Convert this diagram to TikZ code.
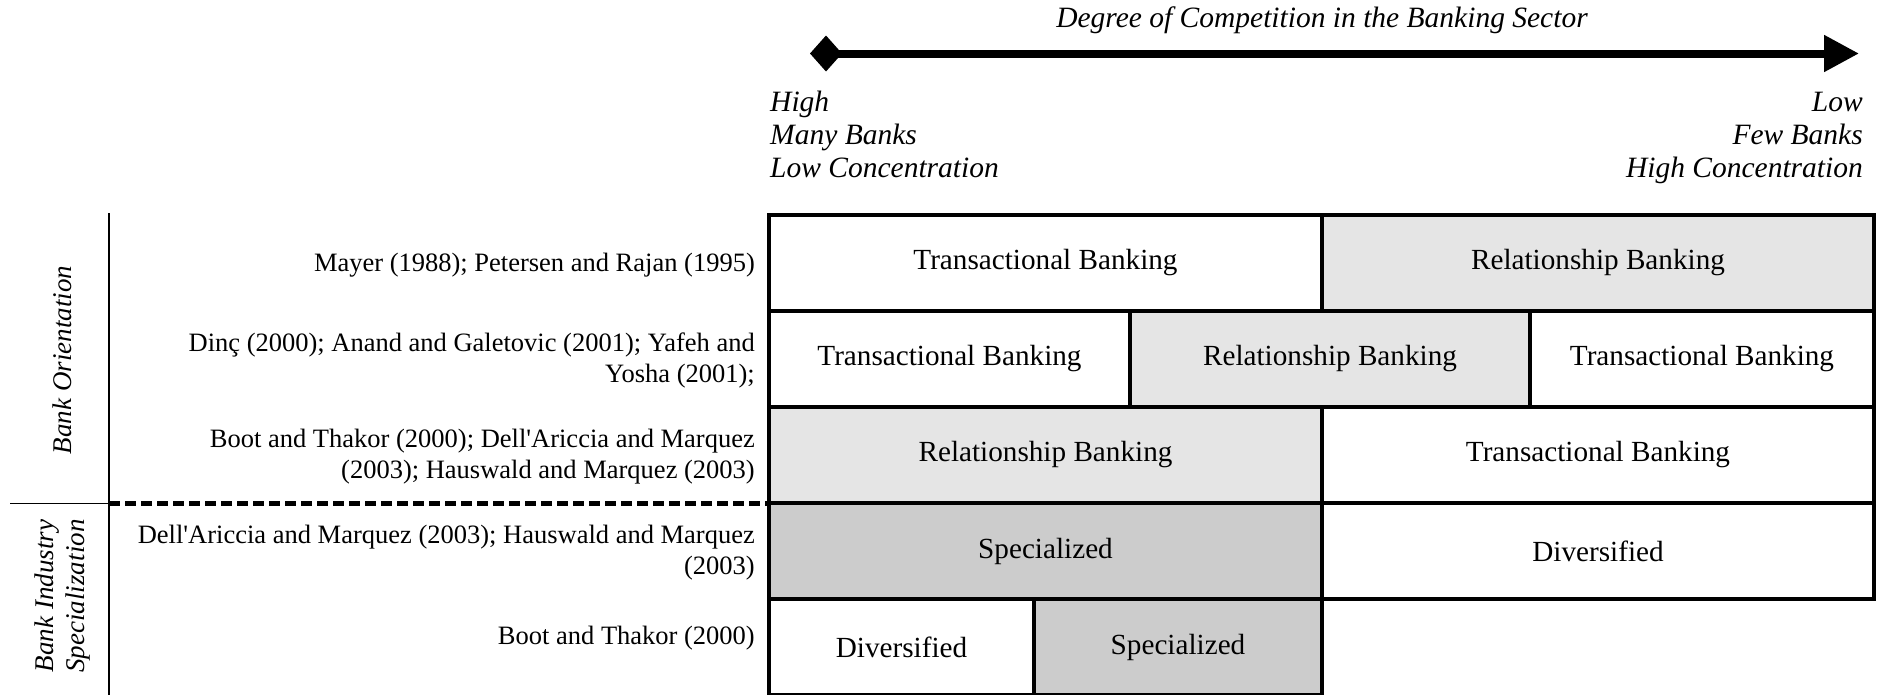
\documentclass[tikz,border=0pt]{standalone}
\usepackage{fontspec}
\newfontfamily\tnr{Liberation Serif}
\usetikzlibrary{arrows.meta}
\definecolor{relgray}{HTML}{E5E5E5}
\definecolor{specgray}{HTML}{CCCCCC}
\begin{document}
\begin{tikzpicture}[x=1pt,y=-1pt,
  cell/.style={draw=black, line width=4.5pt, inner sep=0pt, outer sep=0pt,
    minimum height=96pt, font=\tnr\fontsize{29.2}{34}\selectfont},
  wcell/.style={cell, fill=white},
  rcell/.style={cell, fill=relgray},
  scell/.style={cell, fill=specgray},
  ref/.style={anchor=east, align=right, inner sep=0pt,
    font=\tnr\fontsize{26.5}{31}\selectfont},
  toplab/.style={inner sep=0pt, font=\tnr\itshape\fontsize{29.5}{33}\selectfont},
  rot/.style={rotate=90, inner sep=0pt, align=center,
    font=\tnr\itshape\fontsize{27}{31}\selectfont},
  thin/.style={line width=1.3pt},
  axis/.style={line width=8pt,
    {Kite[length=32pt,width=36pt,inset=16pt]}-{Triangle[length=35pt,width=35pt]}}
]
\useasboundingbox (0,0) rectangle (1885,694);
\clip (0,0) rectangle (1885,694);
\fill[white] (0,0) rectangle (1885,694);

% competition axis
\node[toplab, anchor=base] (title) at (1322,27) {Degree of Competition in the Banking Sector};
\coordinate (axL) at (810,53.5);
\coordinate (axR) at (1859,53.5);
\draw[axis] (axL) -- (axR);
\node[toplab, anchor=west, align=left] (hi) at (770,134) {High\\Many Banks\\Low Concentration};
\node[toplab, anchor=east, align=right] (lo) at (1863,137.5) {Low\\Few Banks\\High Concentration};

% left frame lines
\coordinate (vt) at (109,213);
\coordinate (vb) at (109,700);
\coordinate (hl) at (10,503.5);
\coordinate (hm) at (109,503.5);
\coordinate (hr) at (769,503.5);
\draw[thin] (vt) -- (vb);
\draw[thin] (hl) -- (hm);
\draw[line width=4.5pt, dash pattern=on 11pt off 5pt] (hm) -- (hr);

% side labels
\node[rot] (bo) at (62.5,360) {Bank Orientation};
\node[rot] (bis) at (63,596) {Bank Industry\\Specialization};

% references
\node[ref] (t1) at (755,265) {Mayer (1988); Petersen and Rajan (1995)};
\node[ref] (t2) at (755,360) {Dinç (2000); Anand and Galetovic (2001); Yafeh and\\Yosha (2001);};
\node[ref] (t3) at (755,457) {Boot and Thakor (2000); Dell'Ariccia and Marquez\\(2003); Hauswald and Marquez (2003)};
\node[ref] (t4) at (755,553) {Dell'Ariccia and Marquez (2003); Hauswald and Marquez\\(2003)};
\node[ref] (t5) at (755,638) {Boot and Thakor (2000)};

% table cells
\node[wcell, minimum width=553pt] (r1a) at (1045.5,263) {Transactional Banking};
\node[rcell, minimum width=552pt] (r1b) at (1598,263) {Relationship Banking};
\node[wcell, minimum width=361pt] (r2a) at (949.5,359) {Transactional Banking};
\node[rcell, minimum width=400pt] (r2b) at (1330,359) {Relationship Banking};
\node[wcell, minimum width=344pt] (r2c) at (1702,359) {Transactional Banking};
\node[rcell, minimum width=553pt] (r3a) at (1045.5,455) {Relationship Banking};
\node[wcell, minimum width=552pt] (r3b) at (1598,455) {Transactional Banking};
\node[scell, minimum width=553pt] (r4a) at (1045.5,551) {Specialized};
\node[wcell, minimum width=552pt] (r4b) at (1598,551) {Diversified};
\node[wcell, minimum width=265pt] (r5a) at (901.5,647) {Diversified};
\node[scell, minimum width=288pt] (r5b) at (1178,647) {Specialized};
\end{tikzpicture}
\end{document}
